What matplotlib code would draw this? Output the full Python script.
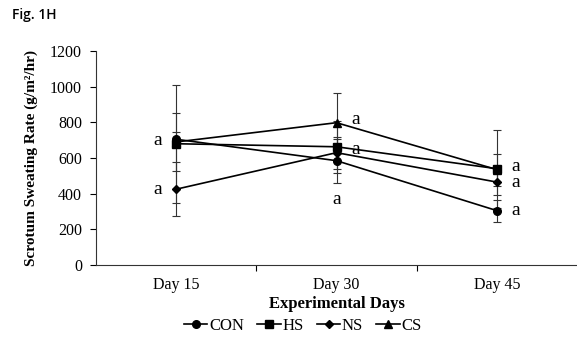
import matplotlib
matplotlib.use('Agg')
from matplotlib import pyplot as plt
from matplotlib.ticker import FixedLocator

# data
days = ["Day 15", "Day 30", "Day 45"]
con = [705, 585, 305]
hs = [680, 663, 540]
ns = [425, 630, 465]
cs = [690, 798, 535]

con_err = [40, 123, 62]
hs_err = [330, 147, 218]
ns_err = [150, 90, 75]
cs_err = [165, 165, 90]

# significance letters: (category index, value, text offset side)
letters = [(0, 700, "left"), (0, 425, "left"),
           (1, 815, "right"), (1, 650, "right"), (1, 365, "center"),
           (2, 555, "right"), (2, 460, "right"), (2, 305, "right")]

plt.rcParams['font.family'] = ['Liberation Serif', 'DejaVu Serif']

fig = plt.figure(figsize=(5.77, 3.53), dpi=100)
ax = fig.add_axes([0.1664, 0.2493, 0.8336, 0.6062])

x = list(range(len(days)))
series = [(con, con_err, 'o', 5.5, "CON"),
          (hs, hs_err, 's', 5.5, "HS"),
          (ns, ns_err, 'D', 4, "NS"),
          (cs, cs_err, '^', 6, "CS")]

for vals, errs, mk, ms, name in series:
    ax.errorbar(x, vals, yerr=errs, color='black', marker=mk, markersize=ms,
                linewidth=1.2, elinewidth=0.8, ecolor='#333333', capsize=3,
                capthick=0.8, label=name)

for i, v, side in letters:
    if side == "left":
        ax.text(i - 0.09, v, "a", ha='right', va='center', fontsize=14)
    elif side == "right":
        ax.text(i + 0.09, v, "a", ha='left', va='center', fontsize=14)
    else:
        ax.text(i, v, "a", ha='center', va='center', fontsize=14)

ax.set_xlim(-0.5, 2.5)
ax.set_ylim(0, 1200)
ax.set_yticks(range(0, 1201, 200))
ax.set_xticks(x)
ax.set_xticklabels(days, fontsize=11.5)
ax.xaxis.set_minor_locator(FixedLocator([0.5, 1.5]))
ax.tick_params(axis='x', which='major', length=0, pad=9)
ax.tick_params(axis='x', which='minor', length=4, width=0.8, direction='out')
ax.tick_params(axis='y', length=4, width=0.8, direction='out', labelsize=11.5, pad=6)

for s in ['top', 'right']:
    ax.spines[s].set_visible(False)
for s in ['left', 'bottom']:
    ax.spines[s].set_linewidth(0.8)
    ax.spines[s].set_color('#333333')

ax.set_ylabel("Scrotum Sweating Rate (g/m²/hr)", fontsize=11, fontweight='bold', labelpad=9)
ax.set_xlabel("Experimental Days", fontsize=12, fontweight='bold', labelpad=2)

handles, labels = ax.get_legend_handles_labels()
handles = [h[0] for h in handles]
fig.legend(handles, labels, loc='center', bbox_to_anchor=(0.525, 0.076), ncol=4,
           frameon=False, fontsize=12, handlelength=1.4, handletextpad=0.1,
           columnspacing=0.8)

fig.text(0.021, 0.957, "Fig. 1H", fontsize=10, family='Open Sans', fontweight='semibold',
         ha='left', va='center')

fig.savefig("out.png", dpi=100)
